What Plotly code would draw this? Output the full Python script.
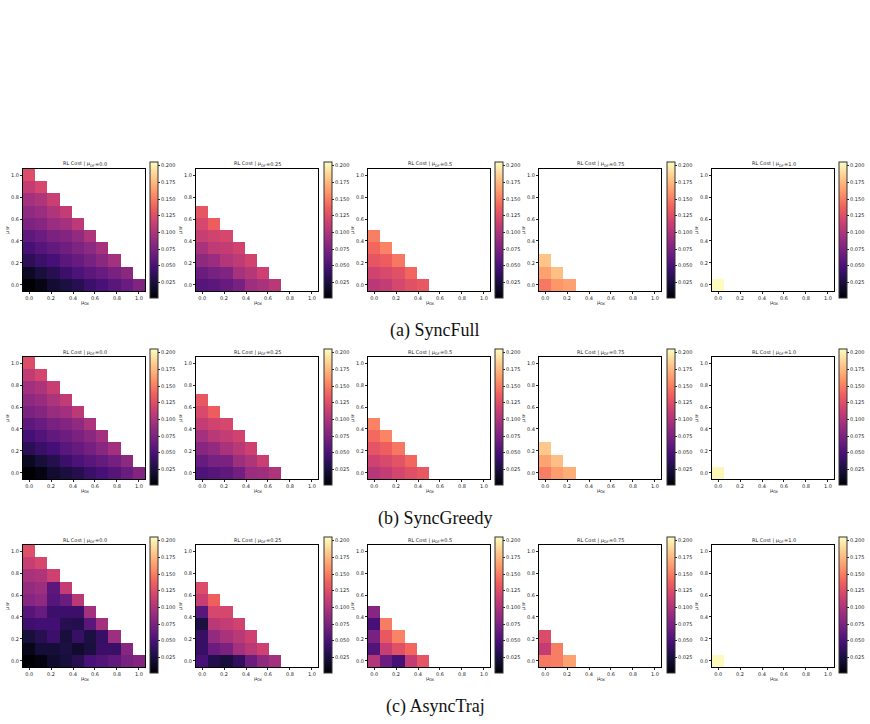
import plotly.graph_objects as go

MU_GRID = [0.0, 0.1111, 0.2222, 0.3333, 0.4444, 0.5556, 0.6667, 0.7778, 0.8889, 1.0]
DF_LABELS = ["0.0", "0.25", "0.5", "0.75", "1.0"]
METHODS = ["(a) SyncFull", "(b) SyncGreedy", "(c) AsyncTraj"]
AXIS_TICKS = [0.0, 0.2, 0.4, 0.6, 0.8, 1.0]
AXIS_TICK_TEXT = ["0.0", "0.2", "0.4", "0.6", "0.8", "1.0"]
CBAR_TICKS = [0.025, 0.050, 0.075, 0.100, 0.125, 0.150, 0.175, 0.200]
CBAR_TICK_TEXT = ["0.025", "0.050", "0.075", "0.100", "0.125", "0.150", "0.175", "0.200"]
ZMIN, ZMAX = 0.0015, 0.2055

# Each panel: rows listed from mu_SF = 0 (bottom) upward, values along mu_OX
SYNCFULL = [
    [  # mu_DF = 0.0
        [0.002, 0.008, 0.020, 0.026, 0.032, 0.042, 0.049, 0.057, 0.065, 0.077],
        [0.014, 0.024, 0.032, 0.043, 0.052, 0.058, 0.064, 0.072, 0.082],
        [0.035, 0.042, 0.048, 0.058, 0.064, 0.072, 0.082, 0.095],
        [0.048, 0.055, 0.062, 0.068, 0.075, 0.083, 0.095],
        [0.060, 0.066, 0.074, 0.078, 0.086, 0.100],
        [0.075, 0.080, 0.090, 0.095, 0.107],
        [0.085, 0.090, 0.100, 0.110],
        [0.095, 0.100, 0.113],
        [0.110, 0.120],
        [0.124],
    ],
    [  # mu_DF = 0.25
        [0.055, 0.058, 0.064, 0.072, 0.092, 0.097, 0.105],
        [0.066, 0.072, 0.076, 0.096, 0.103, 0.115],
        [0.084, 0.090, 0.102, 0.108, 0.117],
        [0.097, 0.108, 0.110, 0.117],
        [0.112, 0.117, 0.120],
        [0.120, 0.135],
        [0.130],
    ],
    [  # mu_DF = 0.5
        [0.105, 0.110, 0.120, 0.127, 0.132],
        [0.117, 0.122, 0.127, 0.140],
        [0.130, 0.135, 0.147],
        [0.140, 0.152],
        [0.150],
    ],
    [  # mu_DF = 0.75
        [0.147, 0.160, 0.165],
        [0.165, 0.178],
        [0.180],
    ],
    [  # mu_DF = 1.0
        [0.205],
    ],
]

SYNCGREEDY = [
    [  # mu_DF = 0.0
        [0.002, 0.007, 0.019, 0.025, 0.031, 0.041, 0.048, 0.056, 0.066, 0.078],
        [0.013, 0.023, 0.031, 0.042, 0.051, 0.057, 0.063, 0.071, 0.083],
        [0.034, 0.041, 0.047, 0.057, 0.063, 0.071, 0.081, 0.094],
        [0.047, 0.054, 0.061, 0.067, 0.074, 0.082, 0.094],
        [0.059, 0.065, 0.073, 0.078, 0.085, 0.099],
        [0.074, 0.079, 0.089, 0.094, 0.106],
        [0.084, 0.089, 0.099, 0.109],
        [0.094, 0.099, 0.112],
        [0.109, 0.119],
        [0.124],
    ],
    [  # mu_DF = 0.25
        [0.052, 0.056, 0.060, 0.070, 0.090, 0.092, 0.100],
        [0.064, 0.072, 0.074, 0.092, 0.100, 0.113],
        [0.080, 0.086, 0.097, 0.105, 0.115],
        [0.095, 0.105, 0.110, 0.117],
        [0.110, 0.117, 0.120],
        [0.122, 0.135],
        [0.132],
    ],
    [  # mu_DF = 0.5
        [0.104, 0.110, 0.119, 0.126, 0.132],
        [0.116, 0.122, 0.128, 0.140],
        [0.129, 0.136, 0.147],
        [0.141, 0.153],
        [0.152],
    ],
    [  # mu_DF = 0.75
        [0.150, 0.163, 0.170],
        [0.166, 0.178],
        [0.182],
    ],
    [  # mu_DF = 1.0
        [0.203],
    ],
]

ASYNCTRAJ = [
    [  # mu_DF = 0.0
        [0.002, 0.006, 0.018, 0.024, 0.032, 0.049, 0.054, 0.060, 0.072, 0.078],
        [0.010, 0.022, 0.022, 0.026, 0.018, 0.025, 0.041, 0.041, 0.080],
        [0.024, 0.032, 0.042, 0.024, 0.040, 0.026, 0.040, 0.092],
        [0.044, 0.046, 0.046, 0.032, 0.030, 0.057, 0.095],
        [0.055, 0.064, 0.042, 0.042, 0.042, 0.095],
        [0.080, 0.085, 0.055, 0.066, 0.105],
        [0.087, 0.092, 0.058, 0.110],
        [0.097, 0.100, 0.115],
        [0.112, 0.120],
        [0.125],
    ],
    [  # mu_DF = 0.25
        [0.048, 0.030, 0.024, 0.037, 0.066, 0.084, 0.095],
        [0.040, 0.066, 0.074, 0.095, 0.105, 0.115],
        [0.040, 0.086, 0.097, 0.105, 0.115],
        [0.026, 0.105, 0.110, 0.117],
        [0.057, 0.120, 0.120],
        [0.112, 0.137],
        [0.123],
    ],
    [  # mu_DF = 0.5
        [0.102, 0.066, 0.048, 0.110, 0.130],
        [0.054, 0.112, 0.127, 0.140],
        [0.072, 0.132, 0.152],
        [0.048, 0.150],
        [0.080],
    ],
    [  # mu_DF = 0.75
        [0.147, 0.150, 0.165],
        [0.110, 0.150],
        [0.123],
    ],
    [  # mu_DF = 1.0
        [0.204],
    ],
]

ALL_DATA = [SYNCFULL, SYNCGREEDY, ASYNCTRAJ]

W, H = 870, 724
COL_LEFT = [23, 196, 368, 539, 712]
ROW_TOP = [169, 357, 545]
AX_SIZE = 122
CB_LEFT = [150, 324, 495, 667, 839]
CB_TOP = [162, 349, 537]
CB_H = 136
CAPTION_Y = [330, 518, 706]

TEXT_COLOR = "#222222"
FONT = "DejaVu Sans"
MAIN_SIZE = 5
SUB_SIZE = 3.6
TICK_FONT = dict(size=5, color=TEXT_COLOR, family=FONT)

# approximate DejaVu Sans advance widths (em)
CHAR_W = {"R": 0.695, "L": 0.557, " ": 0.318, "C": 0.698, "o": 0.612, "s": 0.521,
          "t": 0.392, "|": 0.337, "μ": 0.635, "D": 0.770, "F": 0.575, "=": 0.838,
          ".": 0.318, "O": 0.787, "X": 0.685, "S": 0.635}


def text_width(s, size):
    return sum(CHAR_W.get(ch, 0.636) for ch in s) * size


def sub_pieces(parts, cx, cy, vertical=False):
    """parts: list of (text, is_sub). Returns annotations laid out around (cx, cy) px."""
    widths = [text_width(t, SUB_SIZE if sub else MAIN_SIZE) for t, sub in parts]
    total = sum(widths)
    out = []
    cursor = -total / 2
    for (t, sub), w in zip(parts, widths):
        size = SUB_SIZE if sub else MAIN_SIZE
        base = dict(text=t, x=cx / W, y=1 - cy / H, xref="paper", yref="paper",
                    showarrow=False, borderpad=0,
                    font=dict(size=size, color=TEXT_COLOR, family=FONT))
        if vertical:
            base.update(textangle=-90, xanchor="center", yanchor="middle",
                        yshift=cursor + w / 2, xshift=(1.9 if sub else 0))
        else:
            base.update(xanchor="left", yanchor="middle",
                        xshift=cursor, yshift=(-1.9 if sub else 0))
        out.append(base)
        cursor += w
    return out


fig = go.Figure()
annotations = []
layout_axes = {}

n = len(MU_GRID)
for r, method_data in enumerate(ALL_DATA):
    for c, panel in enumerate(method_data):
        k = r * 5 + c + 1
        z = []
        for j in range(n):
            row = panel[j] if j < len(panel) else []
            z.append(list(row) + [None] * (n - len(row)))
        xa = "x" if k == 1 else f"x{k}"
        ya = "y" if k == 1 else f"y{k}"
        cb_bottom = CB_TOP[r] + CB_H
        fig.add_trace(go.Heatmap(
            x=MU_GRID, y=MU_GRID, z=z,
            xaxis=xa, yaxis=ya,
            colorscale="Magma", zmin=ZMIN, zmax=ZMAX,
            hoverongaps=False,
            colorbar=dict(
                x=CB_LEFT[c] / W, xanchor="left", xpad=0,
                y=1 - cb_bottom / H, yanchor="bottom", ypad=0,
                len=CB_H / H, lenmode="fraction",
                thickness=8, thicknessmode="pixels",
                outlinewidth=1, outlinecolor="#333333",
                tickvals=CBAR_TICKS, ticktext=CBAR_TICK_TEXT,
                ticks="outside", ticklen=2, tickwidth=0.6, tickcolor="#222222",
                tickfont=TICK_FONT,
            ),
        ))
        left = COL_LEFT[c]
        top = ROW_TOP[r]
        xdom = [left / W, (left + AX_SIZE) / W]
        ydom = [1 - (top + AX_SIZE) / H, 1 - top / H]
        axis_common = dict(
            range=[-0.0556, 1.0556],
            tickvals=AXIS_TICKS, ticktext=AXIS_TICK_TEXT,
            ticks="outside", ticklen=2, tickwidth=0.6, tickcolor="#222222",
            tickfont=TICK_FONT,
            showgrid=False, zeroline=False,
            showline=True, linecolor="#000000", linewidth=1, mirror=True,
        )
        layout_axes["xaxis" if k == 1 else f"xaxis{k}"] = dict(axis_common, domain=xdom, anchor=ya)
        layout_axes["yaxis" if k == 1 else f"yaxis{k}"] = dict(axis_common, domain=ydom, anchor=xa)

        cx = left + AX_SIZE / 2
        cy = top + AX_SIZE / 2
        # panel title
        annotations += sub_pieces([("RL Cost | μ", False), ("DF", True), ("=" + DF_LABELS[c], False)],
                                  cx, top - 5)
        # x-axis label
        annotations += sub_pieces([("μ", False), ("OX", True)], cx, top + AX_SIZE + 11)
        # y-axis label
        annotations += sub_pieces([("μ", False), ("SF", True)], left - 16, cy, vertical=True)

    annotations.append(dict(
        text=METHODS[r], x=435 / W, y=1 - CAPTION_Y[r] / H,
        xref="paper", yref="paper", xanchor="center", yanchor="middle",
        showarrow=False,
        font=dict(size=18, color="#111111", family="Liberation Serif"),
    ))

fig.update_layout(
    width=W, height=H,
    margin=dict(l=0, r=0, t=0, b=0),
    paper_bgcolor="white", plot_bgcolor="white",
    showlegend=False,
    annotations=annotations,
    **layout_axes,
)

fig.write_html("out.html")
